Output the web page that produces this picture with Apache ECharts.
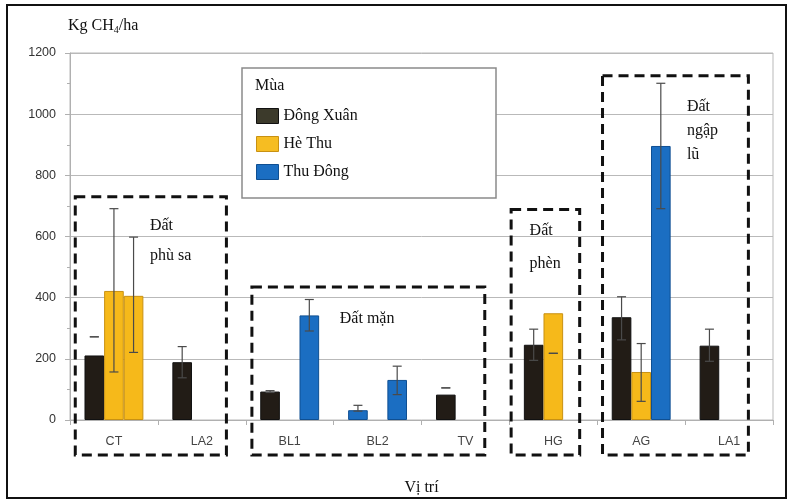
<!DOCTYPE html>
<html>
<head>
<meta charset="utf-8">
<script src="https://cdn.jsdelivr.net/npm/echarts@6/dist/echarts.min.js"></script>
<style>html,body{margin:0;padding:0;background:#fff}#c{width:790px;height:501px}</style>
</head>
<body>
<div id="c"></div>
<script>
// ---- data ----
const categories = ['CT', 'LA2', 'BL1', 'BL2', 'TV', 'HG', 'AG', 'LA1'];
const seriesNames = ['Đông Xuân', 'Hè Thu', 'Thu Đông'];
const dongXuan = [211, 189, 93, 32, 83, 246, 336, 243];
const heThu = [422, null, null, null, null, 349, 157, null];
const thuDong = [406, null, 342, 131, null, null, 896, null];
// error bars [low, high] per category
const dongXuanErr = [[272, 272], [138, 240], [90, 96], [29, 48], [105, 105], [195, 297], [262, 403], [192, 297]];
const heThuErr = [[157, 691], null, null, null, null, [218, 218], [61, 250], null];
const thuDongErr = [[221, 598], null, [291, 394], [83, 176], null, null, [691, 1101], null];
const yTicks = [0, 200, 400, 600, 800, 1000, 1200];
// soil-group annotations: [label, leftCat, rightCat, topValue]
const groupLabels = ['Đất\nphù sa', 'Đất mặn', 'Đất\nphèn', 'Đất\nngập\nlũ'];
const groupLeft = [-0.44, 1.57, 4.52, 5.56];
const groupRight = [1.28, 4.22, 5.30, 7.22];
const groupTop = [730, 435, 688, 1126];

// ---- styles ----
const colors = ['#221c16', '#f6b91a', '#1b6ec2'];
const borders = ['#111', '#c89112', '#0f4f92'];
const legendColors = ['#3c3a2b', '#f6bd22', '#1b6ec2'];
// colour overrides seen in the picture: [seriesIndex, categoryIndex, paletteIndex]
const overrides = [[2, 0, 1], [0, 3, 2]];
const textPos = [[0.41, 650, 30], [2.57, 330, 20], [4.73, 640, 33], [6.52, 1030, 24]];

const values = [dongXuan, heThu, thuDong];
const errs = [dongXuanErr, heThuErr, thuDongErr];
const serif = '"Liberation Serif", "DejaVu Serif", serif';
const sans = '"Liberation Sans", Arial, sans-serif';
const GAP = 0.33;

const chart = echarts.init(document.getElementById('c'));

const barSeries = values.map((vals, s) => ({
  name: seriesNames[s],
  type: 'bar',
  barGap: '0%',
  barCategoryGap: (GAP * 100) + '%',
  z: 3,
  itemStyle: { color: colors[s], borderColor: borders[s], borderWidth: 1 },
  data: vals.map((v, i) => {
    const o = overrides.find(r => r[0] === s && r[1] === i);
    if (o && v != null) return { value: v, itemStyle: { color: colors[o[2]], borderColor: borders[o[2]] } };
    return v;
  })
}));

const errData = [];
errs.forEach((arr, s) => arr.forEach((e, i) => { if (e) errData.push([i, e[0], e[1], s]); }));

const errSeries = {
  type: 'custom',
  z: 4,
  silent: true,
  data: errData,
  encode: { x: 0, y: [1, 2] },
  renderItem: function (params, api) {
    const cat = api.value(0), lo = api.value(1), hi = api.value(2), s = api.value(3);
    const w = api.size([1, 0])[0];
    const bw = w * (1 - GAP) / 3;
    const pLo = api.coord([cat, lo]);
    const pHi = api.coord([cat, hi]);
    const x = pLo[0] + (s - 1) * bw;
    const cap = 4.5;
    const st = { stroke: '#4a4a4a', lineWidth: 1.2 };
    return {
      type: 'group',
      children: [
        { type: 'line', shape: { x1: x, y1: pLo[1], x2: x, y2: pHi[1] }, style: st },
        { type: 'line', shape: { x1: x - cap, y1: pHi[1], x2: x + cap, y2: pHi[1] }, style: st },
        { type: 'line', shape: { x1: x - cap, y1: pLo[1], x2: x + cap, y2: pLo[1] }, style: st }
      ]
    };
  }
};

const option = {
  animation: false,
  backgroundColor: '#fff',
  grid: { left: 70, right: 17, top: 53, bottom: 73, show: true, borderColor: '#b9b9b9', borderWidth: 1 },
  legend: {
    orient: 'vertical', left: 251, top: 103, z: 10,
    itemWidth: 22, itemHeight: 15, itemGap: 12,
    icon: 'rect',
    textStyle: { fontFamily: serif, fontSize: 16, color: '#111' },
    data: seriesNames.map((n, s) => ({ name: n, itemStyle: { color: legendColors[s], borderColor: borders[s], borderWidth: 1 } }))
  },
  xAxis: {
    type: 'category',
    data: categories,
    axisLine: { lineStyle: { color: '#b0b0b0' } },
    axisTick: { show: true, length: 5, lineStyle: { color: '#b0b0b0' } },
    axisLabel: { fontFamily: sans, fontSize: 12.5, color: '#444', margin: 15 },
    name: 'Vị trí',
    nameLocation: 'middle',
    nameGap: 60,
    nameTextStyle: { fontFamily: serif, fontSize: 16, color: '#111' }
  },
  yAxis: {
    type: 'value',
    min: yTicks[0], max: yTicks[yTicks.length - 1], interval: yTicks[1] - yTicks[0],
    axisLine: { show: true, lineStyle: { color: '#b0b0b0' } },
    axisTick: { show: true, length: 5, lineStyle: { color: '#b0b0b0' } },
    minorTick: { show: true, splitNumber: 2, length: 3, lineStyle: { color: '#b0b0b0' } },
    splitLine: { lineStyle: { color: '#b9b9b9' } },
    axisLabel: { fontFamily: sans, fontSize: 12.5, color: '#333', margin: 14, formatter: v => String(v) }
  },
  series: barSeries.concat([errSeries])
};
chart.setOption(option);

// annotation graphics computed from axis scales
const px = v => chart.convertToPixel({ xAxisIndex: 0 }, v);
const py = v => chart.convertToPixel({ yAxisIndex: 0 }, v);
const p0 = px(0), step = px(1) - px(0);
const catX = f => p0 + f * step;
const yZero = py(0);
const boxBottom = yZero + 35;

const elements = [
  { type: 'rect', shape: { x: 7, y: 5, width: 779, height: 493 }, style: { fill: 'none', stroke: '#111', lineWidth: 2 }, z: 20 },
  { type: 'rect', shape: { x: 242, y: 68, width: 254, height: 130 }, style: { fill: '#fff', stroke: '#8a8a8a', lineWidth: 1.5 }, z: 5 },
  { type: 'text', x: 255, y: 78, style: { text: 'Mùa', fontFamily: serif, fontSize: 16, fill: '#111' }, z: 11 },
  { type: 'text', x: 68, y: 17, z: 11,
    style: { text: '{a|Kg CH}{s|4}{a|/ha}', fontFamily: serif,
      rich: { a: { fontFamily: serif, fontSize: 16, fill: '#111', color: '#111' },
              s: { fontFamily: serif, fontSize: 10, fill: '#111', color: '#111', padding: [8, 0, 0, 0] } } } }
];
groupLabels.forEach((lab, g) => {
  const x1 = catX(groupLeft[g]), x2 = catX(groupRight[g]), y1 = py(groupTop[g]);
  elements.push({
    type: 'rect', z: 12,
    shape: { x: x1, y: y1, width: x2 - x1, height: boxBottom - y1 },
    style: { fill: 'none', stroke: '#111', lineWidth: 3, lineDash: [10, 6] }
  });
  const tp = textPos[g];
  elements.push({
    type: 'text', z: 12, x: catX(tp[0]), y: py(tp[1]) - 10,
    style: { text: lab, fontFamily: serif, fontSize: 16, fill: '#111', lineHeight: tp[2] }
  });
});
chart.setOption({ graphic: { elements: elements } });
</script>
</body>
</html>
